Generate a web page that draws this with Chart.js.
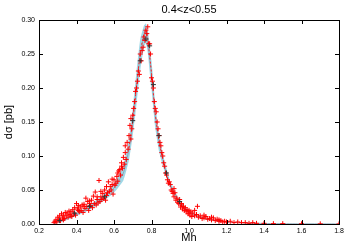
<!DOCTYPE html>
<html>
<head>
<meta charset="utf-8">
<script src="https://cdn.jsdelivr.net/npm/chart.js@4"></script>
<style>
  html, body { margin: 0; padding: 0; background: #fff; }
  #wrap { width: 350px; height: 245px; }
</style>
</head>
<body>
<div id="wrap"><canvas id="c"></canvas></div>
<script>
const titleText = "0.4<z<0.55";
const xTicks = [ 0.2, 0.4, 0.6, 0.8, 1.0, 1.2, 1.4, 1.6, 1.8 ];
const yTicks = [ 0, 0.05, 0.10, 0.15, 0.20, 0.25, 0.30 ];

// theory curve and its band
const thX  = [ 0.28, 0.30, 0.35, 0.40, 0.45, 0.50, 0.55, 0.60, 0.65, 0.68, 0.70, 0.72, 0.74, 0.76, 0.77, 0.78, 0.80, 0.82, 0.84, 0.86, 0.88, 0.90, 0.95, 1.00, 1.05, 1.10, 1.20, 1.30, 1.40, 1.50, 1.60, 1.80 ];
const thY  = [ 0.000, 0.003, 0.008, 0.014, 0.021, 0.030, 0.040, 0.053, 0.075, 0.110, 0.150, 0.200, 0.250, 0.278, 0.283, 0.270, 0.220, 0.160, 0.120, 0.095, 0.075, 0.058, 0.032, 0.018, 0.011, 0.007, 0.003, 0.0015, 0.0008, 0.0004, 0.0002, 0.0000 ];
const thHi = [ 0.001, 0.004, 0.010, 0.016, 0.024, 0.034, 0.045, 0.060, 0.086, 0.126, 0.170, 0.224, 0.272, 0.292, 0.295, 0.286, 0.240, 0.178, 0.133, 0.104, 0.082, 0.063, 0.035, 0.020, 0.012, 0.008, 0.0035, 0.0018, 0.0010, 0.0005, 0.0003, 0.0001 ];
const thLo = [ 0.000, 0.002, 0.006, 0.012, 0.018, 0.026, 0.035, 0.046, 0.064, 0.094, 0.130, 0.176, 0.226, 0.260, 0.266, 0.252, 0.198, 0.142, 0.107, 0.086, 0.068, 0.053, 0.029, 0.016, 0.010, 0.006, 0.0025, 0.0012, 0.0006, 0.0003, 0.0001, 0.0000 ];

// red dotted line near the peak
const peakX = [ 0.68, 0.70, 0.72, 0.74, 0.76, 0.77, 0.78, 0.80, 0.82, 0.84, 0.86 ];
const peakY = [ 0.112, 0.152, 0.202, 0.252, 0.280, 0.286, 0.272, 0.222, 0.162, 0.121, 0.096 ];

// red data points
const redX = [ 0.28, 0.285, 0.29, 0.295, 0.30, 0.305, 0.31, 0.315, 0.32, 0.325, 0.33, 0.335, 0.34, 0.345, 0.35, 0.355, 0.36, 0.365, 0.37, 0.375,
  0.38, 0.385, 0.39, 0.395, 0.40, 0.405, 0.41, 0.415, 0.42, 0.425, 0.43, 0.435, 0.44, 0.445, 0.45, 0.455, 0.46, 0.465, 0.47, 0.475,
  0.48, 0.485, 0.49, 0.495, 0.50, 0.505, 0.51, 0.515, 0.52, 0.525, 0.53, 0.535, 0.54, 0.545, 0.55, 0.555, 0.56, 0.565, 0.57, 0.575,
  0.58, 0.585, 0.59, 0.595, 0.60, 0.605, 0.61, 0.615, 0.62, 0.625, 0.63, 0.635, 0.64, 0.645, 0.65, 0.655, 0.66, 0.665, 0.67, 0.675,
  0.68, 0.685, 0.69, 0.695, 0.70, 0.705, 0.71, 0.715, 0.72, 0.725, 0.73, 0.735, 0.74, 0.745, 0.75, 0.755, 0.76, 0.765, 0.77, 0.775,
  0.78, 0.785, 0.79, 0.795, 0.80, 0.805, 0.81, 0.815, 0.82, 0.825, 0.83, 0.835, 0.84, 0.845, 0.85, 0.855, 0.86, 0.865, 0.87, 0.875,
  0.88, 0.885, 0.89, 0.895, 0.90, 0.905, 0.91, 0.915, 0.92, 0.925, 0.93, 0.935, 0.94, 0.945, 0.95, 0.955, 0.96, 0.965, 0.97, 0.975,
  0.98, 0.985, 0.99, 0.995, 1.00, 1.005, 1.01, 1.015, 1.02, 1.03, 1.04, 1.045, 1.05, 1.06, 1.07, 1.08, 1.09, 1.10, 1.11, 1.12,
  1.13, 1.14, 1.15, 1.16, 1.17, 1.18, 1.19, 1.20, 1.22, 1.24, 1.26, 1.28, 1.30, 1.32, 1.34, 1.36, 1.40, 1.45, 1.50, 1.60, 1.70, 1.80,
  0.33, 0.37, 0.41, 0.44, 0.47, 0.51, 0.53, 0.56, 0.59, 0.62, 0.64, 0.66, 0.69, 0.92, 0.96, 1.00, 1.03, 1.08, 1.12, 1.16 ];
const redY = [ 0.002, 0.004, 0.006, 0.003, 0.010, 0.007, 0.012, 0.005, 0.015, 0.009, 0.013, 0.008, 0.017, 0.012, 0.016, 0.010, 0.019, 0.014, 0.018, 0.011,
  0.021, 0.016, 0.024, 0.013, 0.030, 0.022, 0.027, 0.018, 0.025, 0.020, 0.028, 0.017, 0.029, 0.023, 0.038, 0.026, 0.033, 0.020, 0.034, 0.027,
  0.035, 0.024, 0.041, 0.030, 0.047, 0.028, 0.036, 0.031, 0.064, 0.033, 0.040, 0.036, 0.045, 0.038, 0.050, 0.035, 0.042, 0.046, 0.062, 0.048,
  0.055, 0.050, 0.058, 0.044, 0.065, 0.057, 0.060, 0.070, 0.063, 0.078, 0.080, 0.072, 0.090, 0.082, 0.098, 0.088, 0.105, 0.095, 0.120, 0.110,
  0.130, 0.145, 0.155, 0.140, 0.160, 0.170, 0.180, 0.195, 0.200, 0.210, 0.225, 0.220, 0.250, 0.240, 0.255, 0.260, 0.275, 0.270, 0.285, 0.280,
  0.290, 0.265, 0.265, 0.250, 0.215, 0.210, 0.200, 0.180, 0.170, 0.165, 0.150, 0.140, 0.130, 0.120, 0.115, 0.105, 0.100, 0.090, 0.085, 0.075,
  0.072, 0.065, 0.060, 0.062, 0.058, 0.050, 0.048, 0.045, 0.040, 0.046, 0.035, 0.038, 0.032, 0.030, 0.036, 0.025, 0.028, 0.022, 0.026, 0.020,
  0.024, 0.018, 0.021, 0.015, 0.020, 0.013, 0.018, 0.011, 0.016, 0.012, 0.014, 0.026, 0.010, 0.012, 0.008, 0.009, 0.011, 0.007, 0.008, 0.006,
  0.009, 0.005, 0.007, 0.004, 0.005, 0.003, 0.004, 0.003, 0.004, 0.002, 0.003, 0.002, 0.002, 0.001, 0.002, 0.001, 0.001, 0.0005, 0.0005, 0.0003, 0.0002, 0.0001,
  0.006, 0.012, 0.020, 0.026, 0.030, 0.040, 0.048, 0.055, 0.066, 0.075, 0.085, 0.115, 0.125, 0.052, 0.030, 0.016, 0.020, 0.013, 0.010, 0.006 ];

// black data points
const blkX = [ 0.31, 0.39, 0.47, 0.55, 0.70, 0.74, 0.77, 0.79, 0.81, 0.84, 0.88, 0.95 ];
const blkY = [ 0.005, 0.016, 0.026, 0.040, 0.152, 0.240, 0.272, 0.262, 0.205, 0.130, 0.075, 0.033 ];

function pts ( xs, ys ) {
  return xs.map( ( x, i ) => ( { x: x, y: ys[ i ] } ) );
}

const FONT = "'Liberation Sans', Arial, sans-serif";

// gnuplot style frame: border box, inward ticks on all sides, title on top
const frame = {
  id: "frame",
  afterDraw ( chart ) {
    const { ctx, chartArea: a, scales } = chart;
    ctx.save();
    ctx.strokeStyle = "#000";
    ctx.lineWidth = 1;
    ctx.beginPath();
    for ( const v of xTicks ) {
      const px = Math.round( scales.x.getPixelForValue( v ) ) + 0.5;
      ctx.moveTo( px, a.bottom ); ctx.lineTo( px, a.bottom - 4 );
      ctx.moveTo( px, a.top ); ctx.lineTo( px, a.top + 4 );
    }
    for ( const v of yTicks ) {
      const py = Math.round( scales.y.getPixelForValue( v ) ) + 0.5;
      ctx.moveTo( a.left, py ); ctx.lineTo( a.left + 4, py );
      ctx.moveTo( a.right, py ); ctx.lineTo( a.right - 4, py );
    }
    ctx.stroke();
    ctx.strokeRect( Math.round( a.left ) + 0.5, Math.round( a.top ) + 0.5,
      Math.round( a.right - a.left ), Math.round( a.bottom - a.top ) );
    ctx.fillStyle = "#000";
    ctx.font = "11px " + FONT;
    ctx.textAlign = "center";
    ctx.textBaseline = "middle";
    ctx.fillText( titleText, ( a.left + a.right ) / 2, 10 );
    ctx.restore();
  }
};

new Chart( document.getElementById( "c" ), {
  type: "scatter",
  data: {
    datasets: [
      { type: "line", data: pts( thX, thLo ), borderWidth: 0, pointRadius: 0, fill: false, order: 5 },
      { type: "line", data: pts( thX, thHi ), borderWidth: 0, pointRadius: 0, fill: "-1", backgroundColor: "rgba(150,212,228,0.9)", order: 4 },
      { type: "line", data: pts( thX, thY ), borderColor: "#8fa9b9", borderWidth: 1, pointRadius: 0, fill: false, order: 3 },
      { type: "line", data: pts( peakX, peakY ), borderColor: "#f22", borderWidth: 1, borderDash: [ 2, 2 ], pointRadius: 0, fill: false, order: 2 },
      { data: pts( redX, redY ), pointStyle: "cross", pointRadius: 2.5, borderColor: "#ff0000", borderWidth: 1, order: 1 },
      { data: pts( blkX, blkY ), pointStyle: "cross", pointRadius: 2.5, borderColor: "#333", borderWidth: 1, order: 0 }
    ]
  },
  options: {
    responsive: true,
    maintainAspectRatio: false,
    animation: false,
    layout: { padding: { top: 20, right: 11, left: 0, bottom: 0 } },
    plugins: { legend: { display: false }, tooltip: { enabled: false } },
    elements: { line: { tension: 0.15 } },
    scales: {
      x: {
        type: "linear", min: 0.2, max: 1.8,
        afterBuildTicks: s => { s.ticks = xTicks.map( v => ( { value: v } ) ); },
        afterFit: s => { s.height = 21; },
        grid: { display: false, drawTicks: false },
        border: { display: false },
        ticks: { padding: 3, color: "#000", font: { size: 7, family: FONT }, maxRotation: 0, callback: v => v.toFixed( 1 ) },
        title: { display: true, text: "Mh", color: "#000", font: { size: 11, family: FONT }, padding: 0 }
      },
      y: {
        type: "linear", min: 0, max: 0.30,
        afterBuildTicks: s => { s.ticks = yTicks.map( v => ( { value: v } ) ); },
        afterFit: s => { s.width = 39; },
        grid: { display: false, drawTicks: false },
        border: { display: false },
        ticks: { padding: 4, color: "#000", font: { size: 7, family: FONT }, callback: v => v.toFixed( 2 ) },
        title: { display: true, text: "dσ [pb]", color: "#000", font: { size: 11, family: FONT }, padding: { top: 2, bottom: 0 } }
      }
    }
  },
  plugins: [ frame ]
} );
</script>
</body>
</html>
